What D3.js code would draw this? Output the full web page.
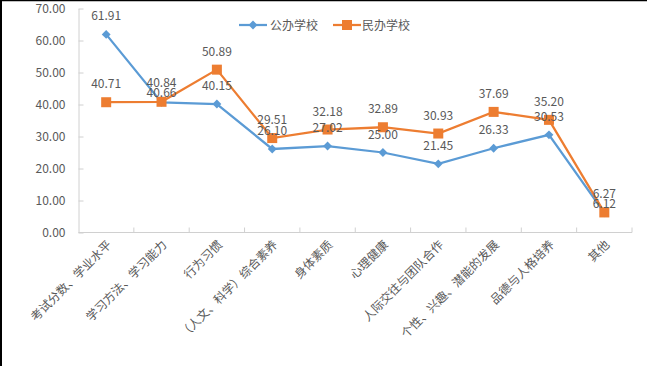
<!DOCTYPE html>
<html><head><meta charset="utf-8">
<script src="https://cdn.jsdelivr.net/npm/d3@7"></script>
<style>body{margin:0;background:#fff}svg{display:block}text{font-family:"Noto Sans CJK SC","Noto Sans",sans-serif}</style>
</head><body>
<script>
const categories = ["考试分数、学业水平","学习方法、学习能力","行为习惯","（人文、科学）综合素养","身体素质","心理健康","人际交往与团队合作","个性、兴趣、潜能的发展","品德与人格培养","其他"];
const publicValues = [61.91,40.66,40.15,26.10,27.02,25.00,21.45,26.33,30.53,6.12];
const privateValues = [40.71,40.84,50.89,29.51,32.18,32.89,30.93,37.69,35.20,6.27];
const seriesNames = ["公办学校","民办学校"];
const yTicks = [0,10,20,30,40,50,60,70];

(function(){
const W=647,H=366;
const svg=d3.select("body").append("svg").attr("width",W).attr("height",H);
svg.append("rect").attr("width",W).attr("height",H).attr("fill","#fff");
svg.append("line").attr("x1",0).attr("x2",W).attr("y1",0.5).attr("y2",0.5).attr("stroke","#000").attr("stroke-width",1.5);
svg.append("line").attr("x1",1).attr("x2",1).attr("y1",0).attr("y2",H).attr("stroke","#000").attr("stroke-width",2);

const mLeft=78.5,mRight=632,mTop=8.5,mBottom=232.5;
const x=d3.scaleBand().domain(categories).range([mLeft,mRight]);
const y=d3.scaleLinear().domain([0,70]).range([mBottom,mTop]);
const axisColor="#d0d0d0", textColor="#595959";

const ya=svg.append("g").attr("transform",`translate(${mLeft},0)`)
  .call(d3.axisLeft(y).tickValues(yTicks).tickFormat(d3.format(".2f")).tickSizeInner(-5).tickSizeOuter(0).tickPadding(13));
ya.select(".domain").attr("stroke",axisColor);
ya.selectAll(".tick line").attr("stroke",axisColor);
ya.selectAll("text").attr("fill",textColor).style("font-size","12px");

const xa=svg.append("g").attr("transform",`translate(0,${mBottom})`);
xa.append("line").attr("x1",mLeft).attr("x2",mRight).attr("stroke",axisColor);
const bounds=categories.map(c=>x(c)).concat([mRight]);
xa.selectAll("line.tk").data(bounds.slice(1)).join("line").attr("class","tk")
  .attr("x1",d=>d).attr("x2",d=>d).attr("y1",0).attr("y2",-5).attr("stroke",axisColor);
xa.selectAll("text").data(categories).join("text")
  .attr("transform",d=>`translate(${x(d)+x.bandwidth()/2+6},${13}) rotate(-45)`)
  .attr("text-anchor","end").attr("fill",textColor).style("font-size","12px").text(d=>d);

const colors=["#5B9BD5","#ED7D31"];
const datasets=[publicValues,privateValues];
const cxOf=i=>x(categories[i])+x.bandwidth()/2;
const line=d3.line().x((d,i)=>cxOf(i)).y(d=>y(d));
datasets.forEach((vals,k)=>{
  const g=svg.append("g");
  g.append("path").datum(vals).attr("d",line).attr("fill","none").attr("stroke",colors[k]).attr("stroke-width",2.25);
  vals.forEach((v,i)=>{
    const cx=cxOf(i), cy=y(v);
    if(k===0){
      g.append("path").attr("d",d3.symbol(d3.symbolDiamond2,50)()).attr("transform",`translate(${cx},${cy})`).attr("fill",colors[k]);
    } else {
      g.append("rect").attr("x",cx-5).attr("y",cy-5).attr("width",10).attr("height",10).attr("fill",colors[k]);
    }
  });
});
// labels with simple collision separation
const labels=[];
categories.forEach((c,i)=>{
  const a={v:publicValues[i],i,y:y(publicValues[i])-14};
  const b={v:privateValues[i],i,y:y(privateValues[i])-14};
  if(Math.abs(a.y-b.y)<10){
    const hi=a.v>=b.v?a:b, lo=a.v>=b.v?b:a;
    const mid=(hi.y+lo.y)/2;
    hi.y=mid-5-4; lo.y=mid+5-4+8;
    hi.y=lo.y-10;
  }
  labels.push(a,b);
});
svg.append("g").selectAll("text").data(labels).join("text")
  .attr("x",d=>cxOf(d.i)).attr("y",d=>d.y)
  .attr("text-anchor","middle").attr("fill",textColor).style("font-size","12px")
  .text(d=>d.v.toFixed(2));

const lg=svg.append("g").attr("transform","translate(0,25)");
[[239,270],[333,362]].forEach(([lx,tx],k)=>{
  lg.append("line").attr("x1",lx).attr("x2",lx+28).attr("stroke",colors[k]).attr("stroke-width",2.25);
  if(k===0) lg.append("path").attr("d",d3.symbol(d3.symbolDiamond2,50)()).attr("transform",`translate(${lx+14},0)`).attr("fill",colors[k]);
  else lg.append("rect").attr("x",lx+9).attr("y",-5).attr("width",10).attr("height",10).attr("fill",colors[k]);
  lg.append("text").attr("x",tx).attr("y",4.5).attr("fill",textColor).style("font-size","12px").text(seriesNames[k]);
});
})();
</script>
</body></html>
